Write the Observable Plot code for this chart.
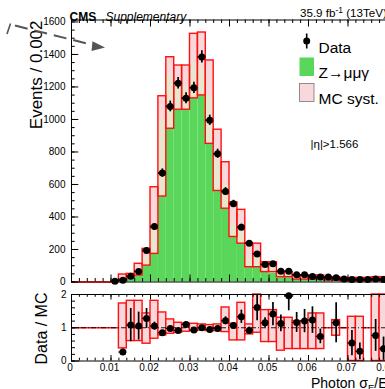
<!DOCTYPE html>
<html><head><meta charset="utf-8">
<script src="https://cdn.jsdelivr.net/npm/d3@7"></script>
<script src="https://cdn.jsdelivr.net/npm/@observablehq/plot@0.6"></script>
<style>
html,body{margin:0;padding:0;background:#fff;}
#chart{width:385px;height:389px;overflow:hidden;position:relative;background:#fff;}
#chart svg{display:block;}
</style></head><body><div id="chart"></div>
<script>
// ---------------- data ----------------
const binWidth = 0.002;
const binStart = [0,0.002,0.004,0.006,0.008,0.010,0.012,0.014,0.016,0.018,0.020,0.022,0.024,0.026,0.028,0.030,0.032,0.034,0.036,0.038,0.040,0.042,0.044,0.046,0.048,0.050,0.052,0.054,0.056,0.058,0.060,0.062,0.064,0.066,0.068,0.070,0.072,0.074,0.076,0.078];
const dataEvents = [null,null,null,null,null,5,10,36,65,194,341,670,1080,1223,1131,1195,1385,995,789,557,481,337,239,173,108,112,66,66,44,44,34,30,30,26,19,15,15,15,19,15];
const dataErr    = [null,null,null,null,null,2.2,3.2,6,8.1,13.9,18.5,25.9,32.9,35,33.6,34.6,37.2,31.5,28.1,23.6,21.9,18.4,15.5,13.2,10.4,10.6,8.1,8.1,6.6,6.6,5.8,5.5,5.5,5.1,4.4,3.9,3.9,3.9,4.4,3.9];
const mcZmmg     = [0,0,0,0,0,0,0,25,40,101,173,526,943,1060,1060,1130,1148,850,560,451,277,260,91,91,61,55,30,30,15,15,15,15,10,0,0,0,0,0,0,0];
const systLo     = [0,0,0,0,0,0,9,25,40,101,173,526,943,1060,1060,1130,1148,850,560,451,277,236,91,91,61,61,30,30,15,15,15,15,9,9,5,5,5,5,5,5];
const systHi     = [0,0,0,0,0,0,46,50,112,204,583,1143,1383,1332,1332,1527,1535,1363,937,737,490,444,236,236,122,122,61,61,40,40,40,40,30,30,25,25,25,25,30,30];
const statHi     = [0,0,0,0,0,0,25,38,75,150,350,1000,1280,1200,1200,1350,1320,1150,750,600,360,340,160,160,90,90,45,45,28,28,28,28,20,20,15,15,15,15,18,18];
const ratio      = [null,null,null,null,null,null,0.27,1.08,1.05,1.28,1.05,0.85,0.98,0.92,1.10,0.93,1.0,0.95,0.98,1.21,1.07,1.33,0.92,1.61,1.15,1.41,1.13,1.96,1.16,1.2,1.23,0.74,null,1.15,null,0.54,0.29,null,0.77,0.37];
const ratioErr   = [null,null,null,null,null,null,0.08,0.5,0.42,0.3,0.12,0.06,0.05,0.04,0.04,0.04,0.04,0.04,0.05,0.12,0.09,0.2,0.1,0.4,0.15,0.35,0.25,0.45,0.3,0.35,0.4,0.22,null,0.6,null,0.38,0.25,null,0.48,0.35];
const ratioSystLo= [1,1,1,1,1,1,0.38,0.6,0.6,0.52,0.67,0.77,0.82,0.85,0.88,0.9,0.92,0.9,0.9,0.87,0.62,0.62,0.8,0.85,0.57,0.57,0.31,0.36,0.36,0.36,0.36,0.36,1,0.76,1,0,0,1,0,0];
const ratioSystHi= [1,1,1,1,1,1,1.73,1.81,1.81,1.43,1.81,1.46,1.25,1.15,1.12,1.12,1.1,1.08,1.1,1.61,1.12,1.75,1.1,2.0,1.53,1.53,1.3,1.3,1.2,1.2,1.43,1.43,1,1.23,1,1.33,1.33,1,2,2];

const xMajorTicks = [0,0.01,0.02,0.03,0.04,0.05,0.06,0.07,0.08,0.09,0.1];
const xTickLabels = [0,0.01,0.02,0.03,0.04,0.05,0.06,0.07,0.08];
const yMajorTicks = [0,200,400,600,800,1000,1200,1400,1600];
const rMajorTicks = [0,1,2];
const xMinorTicks = d3.range(0, 0.1001, 0.002);
const yMinorTicks = d3.range(0, 1601, 50);
const rMinorTicks = d3.range(0, 2.001, 0.2);

// ---------------- styles / layout ----------------
const GREEN = "#5ad75a", PINK = "#f9d8dc", HATCH = "#e3ebcc", RED = "#ff1010";
const FONT = "'Liberation Sans', Arial, Helvetica, sans-serif";
const W = 385, TOP_H = 288, BOT_H = 101;
const X_DOMAIN = [0, 0.1], X_RANGE = [71, 466];
const Y_DOMAIN = [0, 1612], Y_RANGE = [281.5, 19.5];
const R_DOMAIN = [0, 2], R_RANGE = [72.5, 6];
const xPerPx = (X_DOMAIN[1]-X_DOMAIN[0])/(X_RANGE[1]-X_RANGE[0]);
const yPerPx = (Y_DOMAIN[1]-Y_DOMAIN[0])/(Y_RANGE[0]-Y_RANGE[1]);
const rPerPx = (R_DOMAIN[1]-R_DOMAIN[0])/(R_RANGE[0]-R_RANGE[1]);

const bins = binStart.map((x0, i) => ({
  x0, x1: x0 + binWidth, xm: x0 + binWidth/2,
  D: dataEvents[i], De: dataErr[i], G: mcZmmg[i], L: systLo[i], U: systHi[i], H: statHi[i],
  r: ratio[i], re: ratioErr[i], rl: ratioSystLo[i], rh: ratioSystHi[i]
}));
const greenBins = bins.filter(d => d.G > 0);
const bandBins = bins.filter(d => d.U > d.L);
const flatBins = bins.filter(d => d.U === d.L);
const dataBins = bins.filter(d => d.D != null);
const ratioBins = bins.filter(d => d.r != null);
const rBandBins = bins.filter(d => d.rh > d.rl);

const styleObj = {fontFamily: FONT, fontSize: "10px", background: "transparent", overflow: "hidden", color: "black"};

function ticksLeft(values, len) {
  return Plot.ruleY(values, {y: d => d, x1: d => X_DOMAIN[0], x2: d => X_DOMAIN[0] + len*xPerPx, stroke: "black", strokeWidth: 1});
}
function ticksV(values, y0, len, dir, per) {
  return Plot.ruleX(values, {x: d => d, y1: d => y0, y2: d => y0 + dir*len*per, stroke: "black", strokeWidth: 1});
}
const xFmt = d => d === 0 ? "0" : d.toFixed(2);

// ---------------- top panel ----------------
const topPlot = Plot.plot({
  width: W, height: TOP_H,
  marginLeft: 71, marginRight: 0, marginTop: 19.5, marginBottom: TOP_H - 281.5,
  style: styleObj,
  x: {domain: X_DOMAIN, range: X_RANGE, axis: null, label: null},
  y: {domain: Y_DOMAIN, range: Y_RANGE, label: null},
  marks: [
    Plot.rect(greenBins, {x1: "x0", x2: "x1", y1: d => 0, y2: "G", fill: GREEN}),
    Plot.rect(bandBins, {x1: "x0", x2: "x1", y1: "L", y2: "U", fill: PINK}),
    Plot.rect(bandBins, {x1: "x0", x2: "x1", y1: "L", y2: "H", fill: HATCH, fillOpacity: 0.75}),
    Plot.ruleY([0], {stroke: "black", strokeWidth: 1}),
    Plot.ruleY([Y_DOMAIN[1]], {stroke: "black", strokeWidth: 1}),
    Plot.ruleX([0], {stroke: "black", strokeWidth: 1}),
    Plot.rect(bandBins, {x1: "x0", x2: "x1", y1: "L", y2: "U", fill: "none", stroke: RED, strokeWidth: 1.4}),
    Plot.ruleY(flatBins, {y: "L", x1: "x0", x2: "x1", stroke: "#b00000", strokeWidth: 1.6}),
    ticksLeft(yMinorTicks, 3.7),
    ticksLeft(yMajorTicks, 7.3),
    ticksV(xMinorTicks, 0, 3.5, 1, yPerPx),
    ticksV(xMajorTicks, 0, 7, 1, yPerPx),
    ticksV(xMinorTicks, Y_DOMAIN[1], 3.5, -1, yPerPx),
    ticksV(xMajorTicks, Y_DOMAIN[1], 7, -1, yPerPx),
    Plot.ruleX(dataBins, {x: "xm", y1: d => d.D - d.De, y2: d => d.D + d.De, stroke: "black", strokeWidth: 1.7}),
    Plot.ruleY(dataBins, {y: "D", x1: "x0", x2: "x1", stroke: "black", strokeWidth: 1.7}),
    Plot.dot(dataBins, {x: "xm", y: "D", r: 3.5, fill: "black", stroke: "none"}),
    Plot.axisY({ticks: yMajorTicks, tickSize: 0, tickPadding: 6, tickFormat: d => String(d), label: null, fontSize: 10}),
    Plot.text(["CMS"], {frameAnchor: "top-left", dx: -2, dy: -7.3, textAnchor: "start", fontSize: 12, fontWeight: "bold", fontFamily: FONT}),
    Plot.text(["Supplementary"], {frameAnchor: "top-left", dx: 34, dy: -7.3, textAnchor: "start", fontSize: 12, fontStyle: "italic", fontFamily: FONT}),
    Plot.text(["Data"], {frameAnchor: "top-left", dx: 247, dy: 22.2, textAnchor: "start", fontSize: 15.5, fontFamily: FONT}),
    Plot.text(["Z\u2192\u03bc\u03bc\u03b3"], {frameAnchor: "top-left", dx: 247, dy: 47.2, textAnchor: "start", fontSize: 15.5, fontFamily: FONT}),
    Plot.text(["MC syst."], {frameAnchor: "top-left", dx: 247, dy: 72.5, textAnchor: "start", fontSize: 15.5, fontFamily: FONT}),
    Plot.text(["|\u03b7|>1.566"], {frameAnchor: "top-left", dx: 239, dy: 119.5, textAnchor: "start", fontSize: 11.5, fontFamily: FONT}),
    Plot.text(["Events / 0.002"], {frameAnchor: "top-left", dx: -41.4, dy: 0.5, rotate: -90, textAnchor: "end", fontSize: 17, fontFamily: FONT})
  ]
});

// ---------------- ratio panel ----------------
const botPlot = Plot.plot({
  width: W, height: BOT_H,
  marginLeft: 71, marginRight: 0, marginTop: 6, marginBottom: BOT_H - 72.5,
  style: styleObj,
  x: {domain: X_DOMAIN, range: X_RANGE, label: null},
  y: {domain: R_DOMAIN, range: R_RANGE, label: null},
  marks: [
    Plot.ruleY([1], {stroke: RED, strokeWidth: 1.4}),
    Plot.rect(rBandBins, {x1: "x0", x2: "x1", y1: "rl", y2: "rh", fill: PINK, stroke: RED, strokeWidth: 1.4}),
    Plot.ruleY([1], {stroke: "black", strokeWidth: 0.9, strokeDasharray: "5,2,1,2"}),
    Plot.ruleY([0], {stroke: "black", strokeWidth: 1}),
    Plot.ruleY([2], {stroke: "black", strokeWidth: 1}),
    Plot.ruleX([0], {stroke: "black", strokeWidth: 1}),
    ticksLeft(rMinorTicks, 4),
    ticksLeft(rMajorTicks, 8),
    ticksV(xMinorTicks, 0, 2.8, 1, rPerPx),
    ticksV(xMajorTicks, 0, 5.5, 1, rPerPx),
    ticksV(xMinorTicks, 2, 2.8, -1, rPerPx),
    ticksV(xMajorTicks, 2, 5.5, -1, rPerPx),
    Plot.ruleX(ratioBins, {x: "xm", y1: d => Math.max(0, d.r - d.re), y2: d => Math.min(2, d.r + d.re), stroke: "black", strokeWidth: 1.7}),
    Plot.ruleY(ratioBins, {y: "r", x1: "x0", x2: "x1", stroke: "black", strokeWidth: 1.2}),
    Plot.dot(ratioBins, {x: "xm", y: "r", r: 3.5, fill: "black", stroke: "none"}),
    Plot.axisY({ticks: rMajorTicks, tickSize: 0, tickPadding: 5, tickFormat: d => String(d), label: null, fontSize: 10}),
    Plot.axisX({ticks: xTickLabels, tickSize: 0, tickPadding: 3, tickFormat: xFmt, label: null, fontSize: 10, dx: -1.5}),
    Plot.text(["Data / MC"], {frameAnchor: "top-left", dx: -36.1, dy: -2, rotate: -90, textAnchor: "end", fontSize: 16, fontFamily: FONT})
  ]
});

const chart = document.getElementById("chart");
chart.appendChild(topPlot);
chart.appendChild(botPlot);

// ---------------- annotations (legend swatches, arrow, titles with sub/superscripts) ----------------
const gt = d3.select(topPlot).append("g");
gt.append("line").attr("x1", 15).attr("y1", 25.5).attr("x2", 92).attr("y2", 44.8)
  .attr("stroke", "#555").attr("stroke-width", 2).attr("stroke-dasharray", "13,7");
gt.append("line").attr("x1", 7).attr("y1", 34).attr("x2", 10.5).attr("y2", 23.5)
  .attr("stroke", "#555").attr("stroke-width", 1.6);
gt.append("path").attr("d", "M92.5,41.3 L105,47.6 L91.5,51 Z").attr("fill", "#555");
gt.append("rect").attr("x", 299.5).attr("y", 57.5).attr("width", 14.5).attr("height", 18.5).attr("fill", GREEN);
gt.append("rect").attr("x", 299.5).attr("y", 83.5).attr("width", 14.5).attr("height", 18).attr("fill", PINK).attr("stroke", "#777").attr("stroke-width", 0.8);
gt.append("line").attr("x1", 306.7).attr("y1", 33.5).attr("x2", 306.7).attr("y2", 48.5).attr("stroke", "black").attr("stroke-width", 1.6);
gt.append("circle").attr("cx", 306.7).attr("cy", 41).attr("r", 3.5).attr("fill", "black");
const lumi = gt.append("text").attr("x", 300).attr("y", 17).attr("text-anchor", "start")
  .attr("font-size", 11.6).attr("font-family", FONT).attr("fill", "black");
lumi.append("tspan").text("35.9 fb");
lumi.append("tspan").attr("dy", -4.5).attr("font-size", 8.5).text("-1");
lumi.append("tspan").attr("dy", 4.5).text(" (13TeV)");

const gb = d3.select(botPlot).append("g");
const xt = gb.append("text").attr("x", 311).attr("y", 99.5).attr("text-anchor", "start")
  .attr("font-size", 14).attr("font-family", FONT).attr("fill", "black");
xt.append("tspan").text("Photon \u03c3");
xt.append("tspan").attr("dy", 3).attr("font-size", 9.5).text("E");
xt.append("tspan").attr("dy", -3).text("/E");
</script>
</body></html>
